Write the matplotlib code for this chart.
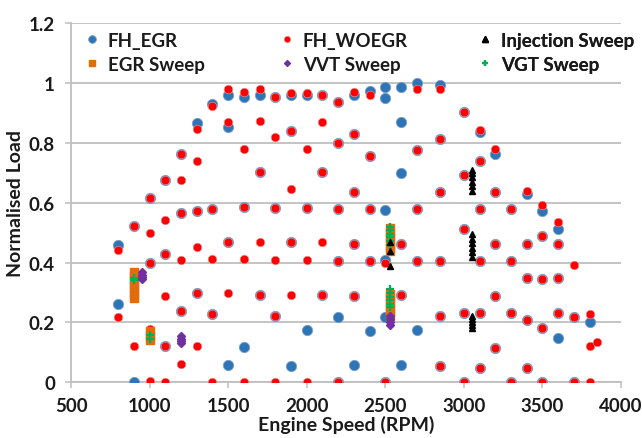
import numpy as np
import matplotlib
matplotlib.use("Agg")
import matplotlib.pyplot as plt
from matplotlib.ticker import FuncFormatter

# FH_EGR points: speed columns and the loads measured at each speed
egr_speeds = [800, 900, 1000, 1100, 1200, 1300, 1400, 1500, 1600, 1700, 1800, 1900, 2000, 2100,
              2200, 2300, 2400, 2500, 2600, 2700, 2850, 3000, 3100, 3200, 3300, 3400, 3500, 3600,
              3700, 3800]
egr_loads = [
    [0.459, 0.261], [0.522, 0.0], [0.617, 0.397], [0.674, 0.428, 0.12],
    [0.764, 0.567, 0.239], [0.867, 0.572, 0.297], [0.930, 0.580, 0.228],
    [0.961, 0.854, 0.469, 0.059], [0.953, 0.584, 0.117], [0.961, 0.702, 0.292],
    [0.953, 0.583, 0.22], [0.960, 0.839, 0.469, 0.055], [0.958, 0.583, 0.174],
    [0.961, 0.702, 0.291], [0.937, 0.80, 0.578, 0.404, 0.217, 0.0],
    [0.959, 0.83, 0.637, 0.463, 0.289, 0.059], [0.972, 0.755, 0.578, 0.404, 0.17],
    [0.987, 0.950, 0.576, 0.408, 0.217, 0.0], [0.987, 0.87, 0.698, 0.463, 0.291, 0.059],
    [1.0, 0.775, 0.578, 0.404, 0.174], [0.994, 0.811, 0.637, 0.404, 0.22, 0.055],
    [0.902, 0.693, 0.511, 0.233, 0.0], [0.836, 0.74, 0.578, 0.404, 0.233, 0.048],
    [0.764, 0.637, 0.463, 0.289, 0.114], [0.578, 0.404, 0.233, 0.0],
    [0.628, 0.463, 0.347, 0.209, 0.048], [0.572, 0.489, 0.344, 0.183, 0.0],
    [0.511, 0.463, 0.347, 0.233, 0.147], [0.219, 0.0], [0.202],
]

# FH_WOEGR points
woegr_speeds = [800, 900, 1000, 1100, 1200, 1300, 1400, 1500, 1600, 1700, 1800, 1900, 2000, 2100,
                2200, 2300, 2400, 2500, 2600, 2700, 2850, 3000, 3100, 3200, 3300, 3400, 3500, 3600,
                3700, 3800, 3850]
woegr_loads = [
    [0.442, 0.217], [0.522, 0.12], [0.617, 0.498, 0.397, 0.178, 0.003],
    [0.674, 0.541, 0.428, 0.289, 0.12, 0.0], [0.764, 0.674, 0.567, 0.408, 0.239, 0.061],
    [0.847, 0.738, 0.572, 0.453, 0.297, 0.122], [0.922, 0.580, 0.413, 0.228, 0.0],
    [0.978, 0.869, 0.469, 0.298], [0.970, 0.778, 0.584, 0.413, 0.0],
    [0.978, 0.872, 0.702, 0.469, 0.292], [0.953, 0.819, 0.583, 0.408, 0.22, 0.0],
    [0.967, 0.839, 0.644, 0.469, 0.292], [0.967, 0.78, 0.583, 0.408, 0.0],
    [0.961, 0.87, 0.702, 0.467, 0.291], [0.937, 0.80, 0.578, 0.404, 0.0],
    [0.969, 0.83, 0.637, 0.463, 0.289], [0.959, 0.755, 0.578, 0.404], [0.40, 0.0],
    [0.463, 0.291], [0.980, 0.775, 0.578, 0.404], [0.978, 0.811, 0.637, 0.404, 0.22, 0.055],
    [0.902, 0.693, 0.511, 0.233, 0.0], [0.844, 0.74, 0.578, 0.404, 0.233, 0.048],
    [0.778, 0.637, 0.463, 0.289, 0.114], [0.578, 0.404, 0.233, 0.0],
    [0.639, 0.463, 0.347, 0.209, 0.048], [0.593, 0.489, 0.344, 0.183, 0.0],
    [0.535, 0.463, 0.347, 0.233], [0.393, 0.219, 0.0], [0.228, 0.12, 0.0], [0.133],
]

# sweeps
inj_speed = [2530, 2530, 2530] + [3050] * 6 + [3050] * 6 + [3050] * 5
inj_load = [0.47, 0.44, 0.39,
            0.64, 0.655, 0.67, 0.685, 0.70, 0.71,
            0.42, 0.435, 0.45, 0.465, 0.48, 0.495,
            0.18, 0.19, 0.20, 0.21, 0.22]

egrs_speed = [900] * 7 + [1000] * 3 + [2530] * 6 + [2530] * 6
egrs_load = [0.28, 0.295, 0.31, 0.325, 0.34, 0.355, 0.37,
             0.14, 0.155, 0.17,
             0.44, 0.455, 0.47, 0.485, 0.50, 0.515,
             0.22, 0.235, 0.25, 0.265, 0.28, 0.295]

vvt_speed = [950] * 4 + [1200] * 4 + [2530] * 4
vvt_load = [0.345, 0.352, 0.36, 0.368,
            0.13, 0.138, 0.146, 0.154,
            0.19, 0.20, 0.21, 0.22]

vgt_speed = [900, 900, 1000, 1000] + [2530] * 6 + [2530] * 6
vgt_load = [0.34, 0.35, 0.145, 0.158,
            0.46, 0.472, 0.484, 0.496, 0.508, 0.52,
            0.25, 0.262, 0.274, 0.286, 0.298, 0.31]

x_ticks = [500, 1000, 1500, 2000, 2500, 3000, 3500, 4000]
y_ticks = [0, 0.2, 0.4, 0.6, 0.8, 1.0, 1.2]


def flatten(speeds, loads):
    xs = np.repeat(speeds, [len(l) for l in loads])
    ys = np.concatenate([np.array(l, dtype=float) for l in loads])
    return xs, ys


plt.rcParams['font.family'] = ['Lato', 'DejaVu Sans']
plt.rcParams['font.weight'] = 'bold'

fig = plt.figure(figsize=(6.42, 4.39), dpi=100)
ax = fig.add_axes([71 / 642, 1 - 383.3 / 439, 550 / 642, 359.3 / 439])

grid_c = '#BFBFBF'
blue = '#2E75B6'
red = '#FF0000'
orange = '#E36C0A'
purple = '#7030A0'
green = '#00B050'
text_c = '#1A1A1A'

ex, ey = flatten(egr_speeds, egr_loads)
wx, wy = flatten(woegr_speeds, woegr_loads)

h_egr, = ax.plot(ex, ey, 'o', color=blue, mec='#7A9CC8', mew=0.6, ms=7.4, zorder=3)
h_woegr, = ax.plot(wx, wy, 'o', color=red, mec='#E8A0A0', mew=0.4, ms=6.2, zorder=4)
h_egrs, = ax.plot(egrs_speed, egrs_load, 's', color=orange, ms=5.5, zorder=5)
h_vvt, = ax.plot(vvt_speed, vvt_load, 'D', color=purple, ms=4, zorder=6)
h_vgt, = ax.plot(vgt_speed, vgt_load, '+', color=green, ms=6, mew=1.6, zorder=7)
h_inj, = ax.plot(inj_speed, inj_load, '^', color='black', ms=5, zorder=8)

ax.set_xlim(500, 4000)
ax.set_ylim(0, 1.2)
ax.set_xticks(x_ticks)
ax.set_yticks(y_ticks)
ax.yaxis.set_major_formatter(FuncFormatter(lambda v, p: ('%g' % round(v, 1))))

ax.grid(axis='y', color=grid_c, lw=1.3, zorder=0)
ax.set_axisbelow(True)
for s in ['top', 'right']:
    ax.spines[s].set_visible(False)
for s in ['left', 'bottom']:
    ax.spines[s].set_color(grid_c)
    ax.spines[s].set_linewidth(1.3)
ax.tick_params(axis='both', colors=grid_c, length=4.5, width=1.1, labelcolor=text_c,
               labelsize=13.5)
ax.tick_params(axis='x', pad=6)
ax.tick_params(axis='y', pad=7)
for lab in ax.get_xticklabels() + ax.get_yticklabels():
    lab.set_fontweight('bold')

ax.set_xlabel('Engine Speed (RPM)', fontsize=14, fontweight='bold', color=text_c)
ax.set_ylabel('Normalised Load', fontsize=14, fontweight='bold', color=text_c)
ax.xaxis.set_label_coords(0.5, -0.09)
ax.yaxis.label.set_va('center')
ax.yaxis.set_label_coords(-0.1, 0.5)

# legend: three columns placed at fixed positions
cols = [([h_egr, h_egrs], ['FH_EGR', 'EGR Sweep'], 0.0),
        ([h_woegr, h_vvt], ['FH_WOEGR', 'VVT Sweep'], 0.355),
        ([h_inj, h_vgt], ['Injection Sweep', 'VGT Sweep'], 0.715)]
for hs, labs, x0 in cols:
    leg = ax.legend(hs, labs, loc='upper left', bbox_to_anchor=(x0, 1.012), frameon=False,
                    prop={'size': 13.5, 'weight': 'bold'}, markerscale=0.75,
                    handlelength=0.8, handletextpad=0.45, labelspacing=0.38,
                    borderaxespad=0.3, labelcolor=text_c)
    ax.add_artist(leg)

fig.savefig('out.png', dpi=100)
